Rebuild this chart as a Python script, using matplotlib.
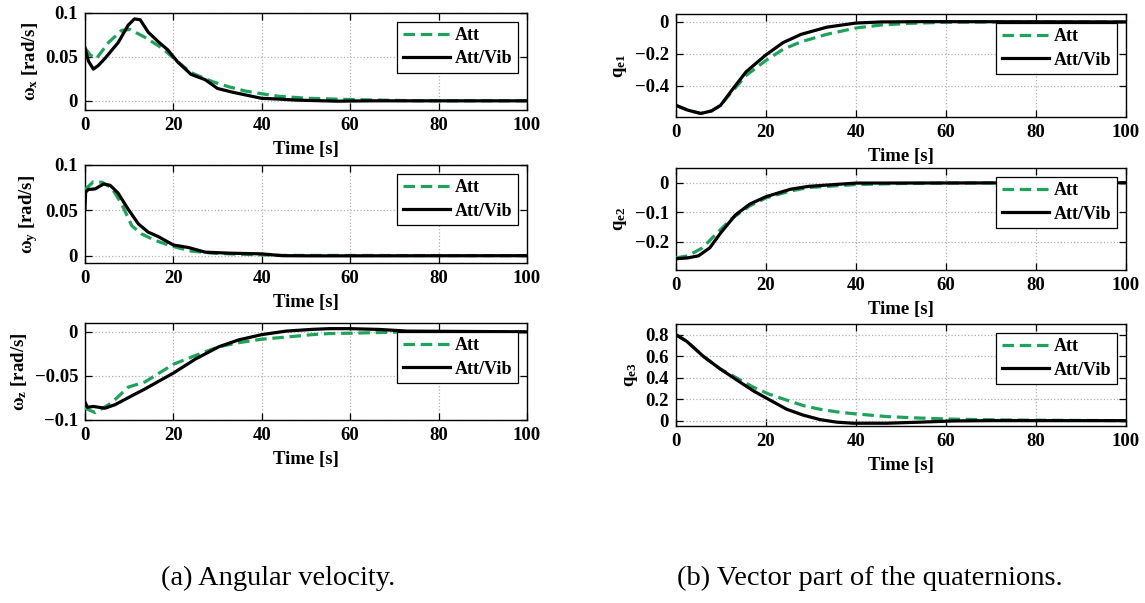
import numpy as np
import matplotlib
matplotlib.use('Agg')
from matplotlib import pyplot as plt
from matplotlib.ticker import FuncFormatter

plt.rcParams['font.family'] = ['Liberation Serif', 'DejaVu Serif']
plt.rcParams['font.weight'] = 'bold'
plt.rcParams['mathtext.fontset'] = 'custom'
plt.rcParams['mathtext.rm'] = 'Liberation Serif:bold'
plt.rcParams['mathtext.it'] = 'Liberation Serif:bold'
plt.rcParams['mathtext.bf'] = 'Liberation Serif:bold'

# angular velocity, x
wx_att_t = [0, 1.2, 2.6, 5.3, 8.3, 10.2, 13.6, 17.4, 21.1, 24, 28.7, 32.5, 36.2, 40, 43.8, 50, 59, 67,
            75, 100]
wx_att = [0.060, 0.052, 0.048, 0.066, 0.080, 0.081, 0.072, 0.060, 0.044, 0.032, 0.022, 0.016, 0.0112,
          0.008, 0.0052, 0.003, 0.0016, 0.0008, 0.0, 0.0]
wx_vib_t = [0, 0.8, 1.9, 3, 4.5, 7.5, 9.8, 11.2, 12.5, 14.3, 16.6, 18.7, 21, 24, 27.2, 30, 33.2, 36.2,
            40, 43.8, 47.8, 57, 65, 100]
wx_vib = [0.060, 0.045, 0.036, 0.040, 0.048, 0.066, 0.086, 0.093, 0.092, 0.078, 0.067, 0.058, 0.044,
          0.030, 0.024, 0.014, 0.010, 0.0068, 0.0028, 0.002, 0.0008, -0.0004, 0.0, 0.0]

# angular velocity, y
wy_att_t = [0, 1.9, 3.8, 6, 8.3, 10.6, 12.8, 15.8, 19.6, 24, 28.7, 35, 45, 100]
wy_att = [0.073, 0.0815, 0.081, 0.075, 0.057, 0.033, 0.024, 0.017, 0.0106, 0.0051, 0.0028, 0.0016,
          0.0003, 0.0]
wy_vib_t = [0, 0.15, 0.75, 2.3, 4.2, 5.7, 7.5, 9.8, 12.1, 14.3, 16.6, 20, 23.4, 27.2, 32.5, 40, 44.6,
            52, 100]
wy_vib = [0.052, 0.070, 0.073, 0.0736, 0.079, 0.0776, 0.069, 0.051, 0.035, 0.026, 0.021, 0.0118, 0.009,
          0.0039, 0.0028, 0.002, 0.0, -0.0002, 0.0]

# angular velocity, z
wz_att_t = [0, 2.3, 6, 9.8, 13.6, 20, 25, 30.3, 34.8, 40, 45.5, 51.5, 55.3, 60, 66.6, 73, 100]
wz_att = [-0.087, -0.092, -0.081, -0.063, -0.057, -0.037, -0.027, -0.017, -0.0124, -0.0084, -0.006,
          -0.0032, -0.002, -0.0016, -0.0008, 0.0, 0.0]
wz_vib_t = [0, 0.6, 1.9, 4.5, 6.8, 9.8, 13.6, 20, 25, 30.3, 34.8, 40, 45.5, 51.5, 55.3, 60, 66.6, 73,
            100]
wz_vib = [-0.080, -0.086, -0.085, -0.087, -0.083, -0.075, -0.065, -0.047, -0.031, -0.017, -0.0092,
          -0.0032, 0.0008, 0.0028, 0.0036, 0.0036, 0.0027, 0.0008, 0.0]

# quaternion vector part
q1_att_t = [0, 2.6, 5.5, 7.9, 9.9, 12.4, 15.6, 20, 23.8, 27.8, 33.5, 40, 45.7, 51.8, 60, 70, 100]
q1_att = [-0.525, -0.555, -0.576, -0.56, -0.525, -0.44, -0.336, -0.242, -0.172, -0.125, -0.078,
          -0.038, -0.019, -0.009, -0.002, 0.0, 0.0]
q1_vib_t = [0, 2.6, 5.5, 7.9, 9.9, 12.4, 15.6, 20, 23.8, 27.8, 33.5, 40, 45.7, 55, 100]
q1_vib = [-0.525, -0.555, -0.576, -0.56, -0.525, -0.43, -0.313, -0.207, -0.13, -0.078, -0.033,
          -0.007, 0.0, 0.002, 0.0]

q2_att_t = [0, 2.6, 5.9, 9.1, 12.4, 16.4, 20, 25.4, 29.5, 40, 50, 60, 75, 100]
q2_att = [-0.254, -0.247, -0.22, -0.17, -0.121, -0.078, -0.051, -0.028, -0.016, -0.006, -0.0025,
          -0.001, 0.0, 0.0]
q2_vib_t = [0, 2.6, 5, 7.5, 9.9, 13.2, 16.4, 20, 25.4, 29.5, 40, 100]
q2_vib = [-0.257, -0.254, -0.247, -0.22, -0.17, -0.109, -0.072, -0.047, -0.022, -0.012, -0.001, 0.0]

q3_att_t = [0, 2.4, 6.1, 9.8, 13.5, 17.2, 20.9, 24.6, 28.3, 32, 35.7, 39.4, 46.8, 54.2, 61.6, 70, 80,
            100]
q3_att = [0.80, 0.738, 0.598, 0.482, 0.397, 0.311, 0.243, 0.191, 0.14, 0.106, 0.082, 0.065, 0.038,
          0.024, 0.014, 0.008, 0.004, 0.0]
q3_vib_t = [0, 2.4, 6.1, 9.8, 13.5, 17.2, 20.9, 24.6, 28.3, 32, 35.7, 39.4, 46.8, 54.2, 61.6, 70, 100]
q3_vib = [0.80, 0.738, 0.598, 0.482, 0.379, 0.277, 0.191, 0.106, 0.051, 0.010, -0.014, -0.024, -0.024,
          -0.014, -0.003, 0.0, 0.0]

x_ticks = [0, 20, 40, 60, 80, 100]
series_names = ['Att', 'Att/Vib']

panels = [
    # (t_att, att, t_vib, vib, ylabel, yticks, ylim, axes rect)
    (wx_att_t, wx_att, wx_vib_t, wx_vib, r'$\omega_x$ [rad/s]', [0, 0.05, 0.1], [-0.01, 0.1],
     [0.0742, 0.8182, 0.386, 0.1607]),
    (wy_att_t, wy_att, wy_vib_t, wy_vib, r'$\omega_y$ [rad/s]', [0, 0.05, 0.1], [-0.0085, 0.1],
     [0.0742, 0.5632, 0.386, 0.1632]),
    (wz_att_t, wz_att, wz_vib_t, wz_vib, r'$\omega_z$ [rad/s]', [-0.1, -0.05, 0], [-0.1, 0.01],
     [0.0742, 0.3041, 0.386, 0.1602]),
    (q1_att_t, q1_att, q1_vib_t, q1_vib, r'q$_{e1}$', [-0.4, -0.2, 0], [-0.6, 0.05],
     [0.5904, 0.8055, 0.393, 0.1713]),
    (q2_att_t, q2_att, q2_vib_t, q2_vib, r'q$_{e2}$', [-0.2, -0.1, 0], [-0.295, 0.05],
     [0.5904, 0.5522, 0.393, 0.1692]),
    (q3_att_t, q3_att, q3_vib_t, q3_vib, r'q$_{e3}$', [0, 0.2, 0.4, 0.6, 0.8], [-0.05, 0.9],
     [0.5904, 0.2935, 0.393, 0.1692]),
]

green = '#1da35a'
fmt = FuncFormatter(lambda v, pos: f'{v:g}'.replace('-', '\u2212'))

fig = plt.figure(figsize=(11.45, 6.03), dpi=100)
for t_a, y_a, t_v, y_v, ylab, yt, yl, rect in panels:
    ax = fig.add_axes(rect)
    ax.plot(t_a, y_a, color=green, lw=2.3, ls=(0, (3.6, 1.8)), label=series_names[0], zorder=3)
    ax.plot(t_v, y_v, color='black', lw=2.3, label=series_names[1], zorder=4)
    ax.set_xlim(0, 100)
    ax.set_ylim(yl)
    ax.set_xticks(x_ticks)
    ax.set_yticks(yt)
    ax.yaxis.set_major_formatter(fmt)
    ax.grid(True, ls=':', color='#b0b0b0', lw=0.9)
    ax.tick_params(direction='in', top=True, right=True, labelsize=13.5, length=5, width=0.9, pad=5)
    for s in ax.spines.values():
        s.set_linewidth(1.0)
    ax.set_xlabel('Time [s]', fontsize=13.5, fontweight='bold', labelpad=5)
    ax.set_ylabel(ylab, fontsize=13.5, fontweight='bold', labelpad=4)
    leg = ax.legend(loc='upper right', fontsize=13, frameon=True, fancybox=False, framealpha=1,
                    edgecolor='black', borderaxespad=0.5, handlelength=2.6, handletextpad=0.3,
                    borderpad=0.3, labelspacing=0.35, prop={'weight': 'bold', 'size': 13})
    leg.get_frame().set_linewidth(0.9)

fig.text(0.243, 0.041, '(a) Angular velocity.', ha='center', va='center', fontsize=20.5,
         fontweight='normal')
fig.text(0.760, 0.041, '(b) Vector part of the quaternions.', ha='center', va='center',
         fontsize=20.5, fontweight='normal')

plt.savefig('out.png', dpi=100)
plt.close()
